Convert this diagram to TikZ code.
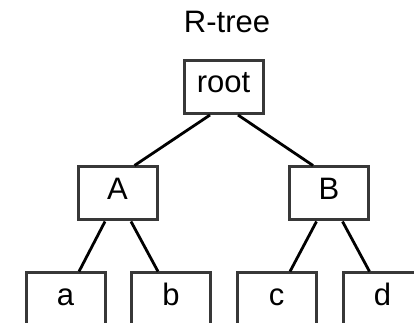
\documentclass[tikz,border=0pt]{standalone}
\usepackage{fontspec}
\setmainfont{Liberation Sans}
\begin{document}
\begin{tikzpicture}[x=1pt,y=1pt,
  treebox/.style={draw=black!78, line width=3pt, minimum width=79pt, minimum height=53pt, inner sep=0pt, text height=18pt, text depth=6pt, font=\fontsize{31}{35}\selectfont, text=black},
  edge/.style={draw=black, line width=2.8pt}]
\useasboundingbox (0,0) rectangle (414,323);
\node[font=\fontsize{31}{35}\selectfont, anchor=base] (title) at (227,290) {R-tree};
\node[treebox] (root) at (223.5,236) {root};
\node[treebox] (A) at (117.5,129.5) {A};
\node[treebox] (B) at (329,129.5) {B};
\node[treebox] (a) at (65.5,23.5) {a};
\node[treebox] (b) at (171,23.5) {b};
\node[treebox] (c) at (276.5,23.5) {c};
\node[treebox] (d) at (382.5,23.5) {d};
\draw[edge] ([xshift=-13.5pt]root.south) -- ([xshift=17pt]A.north);
\draw[edge] ([xshift=14.5pt]root.south) -- ([xshift=-16pt]B.north);
\draw[edge] ([xshift=-12.5pt]A.south) -- ([xshift=13.5pt]a.north);
\draw[edge] ([xshift=13.5pt]A.south) -- ([xshift=-13pt]b.north);
\draw[edge] ([xshift=-12.5pt]B.south) -- ([xshift=13.5pt]c.north);
\draw[edge] ([xshift=13.5pt]B.south) -- ([xshift=-13pt]d.north);
\end{tikzpicture}
\end{document}
